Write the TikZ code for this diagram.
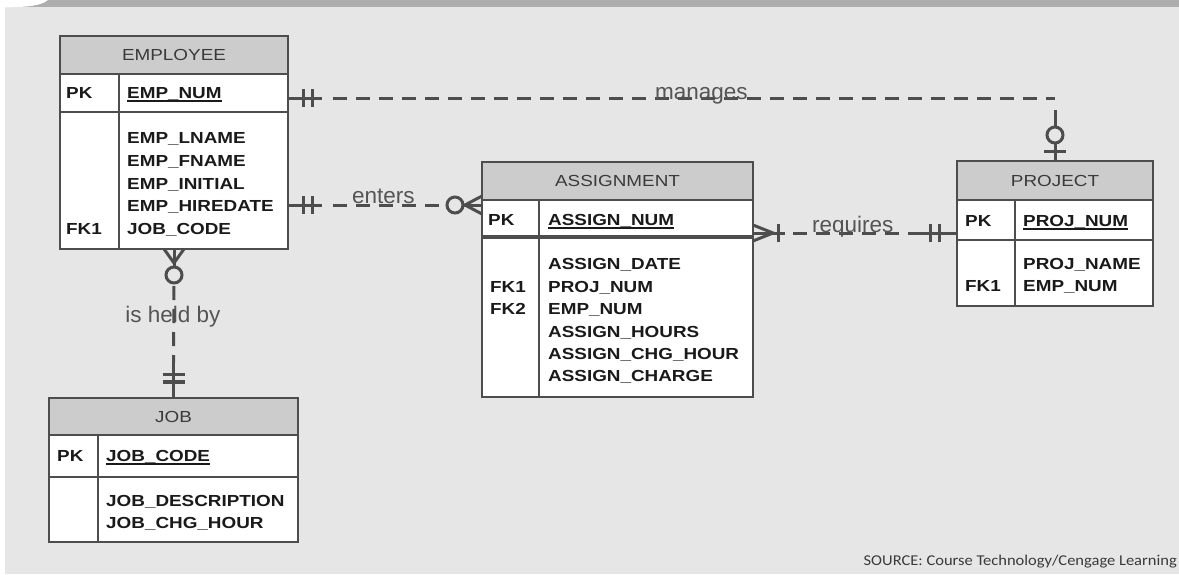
\documentclass[tikz,border=0pt]{standalone}
\usepackage{fontspec}
\setmainfont{Liberation Sans}
\newfontfamily\tf[FakeStretch=1.18]{Liberation Sans}
\newfontfamily\srcf[FakeStretch=1.1]{Carlito}
\usetikzlibrary{calc}
\definecolor{bg}{HTML}{E6E6E6}
\definecolor{band}{HTML}{ADADAD}
\definecolor{bd}{HTML}{4D4D4D}
\definecolor{hd}{HTML}{CCCCCC}
\definecolor{hdtx}{HTML}{3A3A3A}
\definecolor{tx}{HTML}{1A1A1A}
\definecolor{ln}{HTML}{4D4D4D}
\definecolor{lb}{HTML}{555555}
\definecolor{srcc}{HTML}{3A3A3A}
\newcommand\pkul[1]{\setbox0\hbox{#1}\rlap{\rule[-3.5pt]{\wd0}{1.8pt}}\box0}
\tikzset{
 tbl/.style={rectangle, draw=bd, line width=2.2pt, anchor=north west, inner sep=0pt, outer sep=0pt},
 hdr/.style={tbl, fill=hd, text=hdtx, font=\tf\fontsize{16}{19}\selectfont},
 rowbox/.style={tbl, fill=white},
 fld/.style={anchor=base west, inner sep=0pt, text=tx, font=\tf\bfseries\fontsize{16}{19}\selectfont},
 divl/.style={draw=bd, line width=2.2pt},
 conn/.style={draw=ln, line width=3pt},
 dconn/.style={conn, dash pattern=on 14pt off 9pt},
 lbl/.style={anchor=base west, inner sep=0pt, text=lb, font=\fontsize{22.5}{26}\selectfont},
}
\begin{document}
\begin{tikzpicture}[x=1pt,y=-1pt]
\useasboundingbox (0,0) rectangle (1179,574);
\fill[bg] (0,0) rectangle (1179,574);
\fill[white] (0,0) rectangle (5,574);
\fill[band] (0,0) rectangle (1179,7);
\fill[white] (0,0) -- (48,0) .. controls (40,6) and (30,7) .. (0,7.5) -- cycle;

% EMPLOYEE
\node[hdr, minimum width=228pt, minimum height=38pt] (emp) at (60,36) {EMPLOYEE};
\node[rowbox, minimum width=228pt, minimum height=38pt] (emppk) at (60,74) {};
\node[rowbox, minimum width=228pt, minimum height=137pt] (empb) at (60,112) {};
\draw[divl] (119,74) -- (119,249);
\node[fld] (e0) at (66,98) {PK};
\node[fld] (e1) at (127,98) {\pkul{EMP\_NUM}};
\node[fld] (e2) at (127,143) {EMP\_LNAME};
\node[fld] (e3) at (127,166) {EMP\_FNAME};
\node[fld] (e4) at (127,189) {EMP\_INITIAL};
\node[fld] (e5) at (127,211) {EMP\_HIREDATE};
\node[fld] (e6) at (127,234) {JOB\_CODE};
\node[fld] (e7) at (66,234) {FK1};

% ASSIGNMENT
\node[hdr, minimum width=271pt, minimum height=38pt] (asg) at (482,162) {ASSIGNMENT};
\node[rowbox, minimum width=271pt, minimum height=37pt] (asgpk) at (482,200) {};
\node[rowbox, minimum width=271pt, minimum height=160pt] (asgb) at (482,237) {};
\draw[divl] (539,200) -- (539,397);
\draw[draw=bd, line width=4pt] (482,237) -- (753,237);
\node[fld] (a0) at (488,225) {PK};
\node[fld] (a1) at (548,225) {\pkul{ASSIGN\_NUM}};
\node[fld] (a2) at (548,269) {ASSIGN\_DATE};
\node[fld] (a3) at (548,292) {PROJ\_NUM};
\node[fld] (a4) at (548,314) {EMP\_NUM};
\node[fld] (a5) at (548,337) {ASSIGN\_HOURS};
\node[fld] (a6) at (548,359) {ASSIGN\_CHG\_HOUR};
\node[fld] (a7) at (548,381) {ASSIGN\_CHARGE};
\node[fld] (a8) at (490,292) {FK1};
\node[fld] (a9) at (490,314) {FK2};

% PROJECT
\node[hdr, minimum width=196pt, minimum height=39pt] (proj) at (957,161) {PROJECT};
\node[rowbox, minimum width=196pt, minimum height=40pt] (projpk) at (957,200) {};
\node[rowbox, minimum width=196pt, minimum height=66pt] (projb) at (957,240) {};
\draw[divl] (1015,200) -- (1015,306);
\node[fld] (p0) at (965,226) {PK};
\node[fld] (p1) at (1023,226) {\pkul{PROJ\_NUM}};
\node[fld] (p2) at (1023,269) {PROJ\_NAME};
\node[fld] (p3) at (1023,291) {EMP\_NUM};
\node[fld] (p4) at (965,291) {FK1};

% JOB
\node[hdr, minimum width=249pt, minimum height=37pt] (job) at (49,398) {JOB};
\node[rowbox, minimum width=249pt, minimum height=42pt] (jobpk) at (49,435) {};
\node[rowbox, minimum width=249pt, minimum height=65pt] (jobb) at (49,477) {};
\draw[divl] (98,435) -- (98,542);
\node[fld] (j0) at (57,461) {PK};
\node[fld] (j1) at (106,461) {\pkul{JOB\_CODE}};
\node[fld] (j2) at (106,506) {JOB\_DESCRIPTION};
\node[fld] (j3) at (106,528) {JOB\_CHG\_HOUR};

% manages
\coordinate (m1) at ($(emppk.east)+(0,5)$);
\coordinate (m2) at ($(proj.north)+(0,-51)$);
\draw[conn] (m1) -- ($(m1)+(34,0)$);
\draw[conn] ($(m1)+(15,-9)$) -- ($(m1)+(15,9)$);
\draw[conn] ($(m1)+(24,-9)$) -- ($(m1)+(24,9)$);
\draw[dconn] ($(m1)+(45,0)$) -- (m2 |- m1);
\draw[conn] (m2) -- (proj.north);
\draw[conn, fill=bg] ($(proj.north)+(0,-26)$) circle (8pt);
\draw[conn] ($(proj.north)+(-11,-10)$) -- ($(proj.north)+(11,-10)$);
\node[lbl] (lm) at (655,99) {manages};

% enters
\coordinate (n1) at ($(empb.east)+(0,24.5)$);
\coordinate (n2) at ($(asgpk.west)+(0,-13.5)$);
\draw[conn] (n1) -- ($(n1)+(34,0)$);
\draw[conn] ($(n1)+(15,-9)$) -- ($(n1)+(15,9)$);
\draw[conn] ($(n1)+(24,-9)$) -- ($(n1)+(24,9)$);
\draw[dconn] ($(n1)+(45,0)$) -- ($(n2)+(-35,0)$);
\draw[conn] ($(n2)+(-19,0)$) -- (n2);
\draw[conn] ($(n2)+(0,-9)$) -- ($(n2)+(-17,0)$) -- ($(n2)+(0,9)$);
\draw[conn, fill=bg] ($(n2)+(-27,0)$) circle (8pt);
\node[lbl] (le) at (352,203) {enters};

% requires
\coordinate (r1) at ($(asgpk.east)+(0,14.5)$);
\coordinate (r2) at ($(projpk.west)+(0,13)$);
\draw[conn] (r1) -- ($(r1)+(32,0)$);
\draw[conn] ($(r1)+(0,-8)$) -- ($(r1)+(20,0)$) -- ($(r1)+(0,8)$);
\draw[conn] ($(r1)+(25,-9)$) -- ($(r1)+(25,9)$);
\draw[dconn] ($(r1)+(40,0)$) -- ($(r2)+(-37,0)$);
\draw[conn] ($(r2)+(-37,0)$) -- (r2);
\draw[conn] ($(r2)+(-27,-9)$) -- ($(r2)+(-27,9)$);
\draw[conn] ($(r2)+(-18,-9)$) -- ($(r2)+(-18,9)$);
\node[lbl] (lr) at (812,232) {requires};

% is held by
\coordinate (h1) at (empb.south);
\coordinate (h2) at (job.north);
\node[lbl, anchor=base] (lh) at (173,322) {is held by};
\draw[conn] (h1) -- ($(h1)+(0,18)$);
\draw[conn] ($(h1)+(-10,0)$) -- ($(h1)+(0,14)$) -- ($(h1)+(10,0)$);
\draw[conn, fill=bg] ($(h1)+(0,26)$) circle (8pt);
\draw[dconn] ($(h1)+(0,37)$) -- ($(h2)+(0,-36)$);
\draw[conn] ($(h2)+(0,-36)$) -- (h2);
\draw[conn] ($(h2)+(-11,-24)$) -- ($(h2)+(11,-24)$);
\draw[conn, line width=4pt] ($(h2)+(-11,-16)$) -- ($(h2)+(11,-16)$);

% source
\node[anchor=base east, inner sep=0pt, text=srcc, font=\srcf\fontsize{15}{18}\selectfont] (src) at (1177,565) {SOURCE: Course Technology/Cengage Learning};
\end{tikzpicture}
\end{document}
